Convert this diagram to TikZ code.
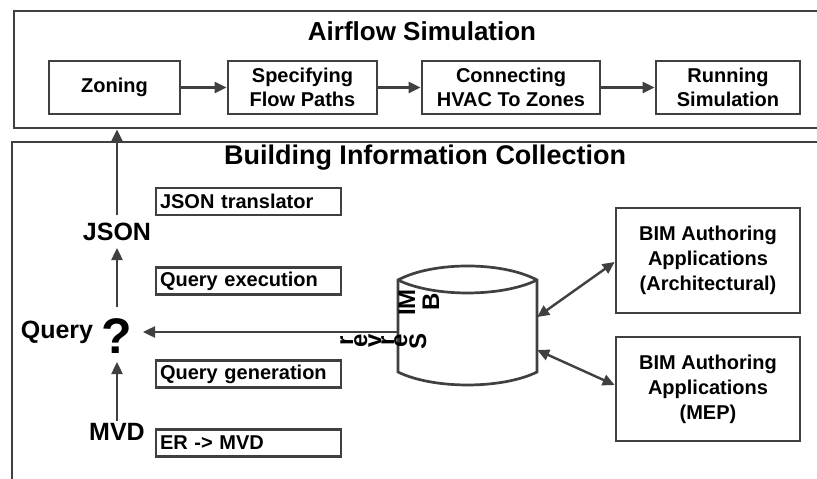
\documentclass[tikz,border=0pt]{standalone}
\usepackage{fontspec}
\setmainfont{Liberation Sans}
\usetikzlibrary{arrows.meta}
\definecolor{dg}{RGB}{64,64,64}
\newcommand\fsz[2]{\fontsize{#1}{#2}\selectfont\bfseries}
\begin{document}
\begin{tikzpicture}[x=1pt,y=-1pt,
 frame/.style={draw=dg, line width=2.7pt},
 cbox/.style={frame, fill=white, align=center, inner sep=0pt, font=\fsz{20}{24}},
 bimbox/.style={frame, fill=white, align=center, inner sep=0pt, font=\fsz{20}{25}, minimum width=184pt},
 lbox/.style={frame, fill=white, align=left, inner xsep=4pt, inner ysep=0pt, text width=177pt, minimum height=27pt, font=\fsz{20}{24}},
 lab/.style={inner sep=0pt, font=\fsz{25}{30}},
 ttl/.style={inner sep=0pt},
 arr/.style={draw=dg, line width=2.4pt, -{Triangle[length=12pt,width=11pt]}},
 darr/.style={draw=dg, line width=2.4pt, {Triangle[length=12pt,width=11pt]}-{Triangle[length=12pt,width=11pt]}},
 glyph/.style={inner sep=0pt, rotate=90, font=\fsz{24}{24}, text width=18pt, align=center, text height=12pt, text depth=0pt},
]
\useasboundingbox (0,0) rectangle (817,479);
\clip (0,0) rectangle (817,479);
\fill[white] (0,0) rectangle (817,479);

% Airflow simulation frame
\node[frame, minimum width=816pt, minimum height=117pt, inner sep=0pt] (air) at (422,69.5) {};
\node[ttl, font=\fsz{26}{30}] (airt) at (422,31) {Airflow Simulation};
\node[cbox, minimum width=131pt, minimum height=53pt] (zon) at (114.5,87.5) {Zoning};
\node[cbox, minimum width=149pt, minimum height=53pt] (spec) at (302.5,87.5) {Specifying\\Flow Paths};
\node[cbox, minimum width=178pt, minimum height=53pt] (conn) at (511,87.5) {Connecting\\HVAC To Zones};
\node[cbox, minimum width=144pt, minimum height=53pt] (run) at (728,87.5) {Running\\Simulation};
\draw[arr] (zon.east) -- (spec.west);
\draw[arr] (spec.east) -- (conn.west);
\draw[arr] (conn.east) -- (run.west);

% Building information collection frame
\node[frame, minimum width=818pt, minimum height=380pt, inner sep=0pt] (bic) at (421,332) {};
\node[ttl, font=\fsz{27}{30}] (bict) at (425,158) {Building Information Collection};

\node[lbox] (jt) at (248.5,201.5) {JSON translator};
\node[lbox] (qe) at (248.5,281) {Query execution};
\node[lbox] (qg) at (248.5,374) {Query generation};
\node[lbox] (er) at (248.5,443) {ER -> MVD};

\node[lab] (json) at (117,232) {JSON};
\node[lab] (qlab) at (57,332) {Query};
\node[inner sep=0pt, font=\fsz{50}{50}] (qm) at (117,336) {?};
\node[lab] (mvd) at (117,432) {MVD};
\coordinate (qtip) at (143,332);

\draw[arr] (json.north |- 0,215) -- (json.north |- air.south);
\draw[arr] (qm.north |- 0,307) -- (json.south |- 0,248);
\draw[arr] (mvd.north |- 0,421) -- (qm.south |- 0,362);

% database cylinder
\node[inner sep=0pt, minimum width=139pt, minimum height=92pt] (db) at (467.5,326) {};
\draw[frame, fill=white] (398,280) -- (398,372) .. controls (433,389.3) and (502,389.3) .. (537,372)
  -- (537,280) .. controls (502,261.3) and (433,261.3) .. (398,280) -- cycle;
\draw[frame] (398,280) .. controls (433,297.3) and (502,297.3) .. (537,280);

\draw[arr] (db.west |- 0,332) -- (qtip);

\node[glyph] (gB) at (433,302) {B};
\node[glyph] (gM) at (409,300) {M};
\node[glyph] (gI) at (409,312) {I};
\node[glyph] (gS) at (420,341) {S};
\node[glyph] (ge1) at (401,341) {e};
\node[glyph] (gr1) at (388,341) {r};
\node[glyph] (gv) at (375,341) {v};
\node[glyph] (ge2) at (361,341) {e};
\node[glyph] (gr2) at (347,341) {r};

% BIM authoring applications
\node[bimbox, minimum height=105pt] (arch) at (708,260.5) {BIM Authoring\\Applications\\(Architectural)};
\node[bimbox, minimum height=104pt] (mep) at (708,389) {BIM Authoring\\Applications\\(MEP)};
\draw[darr] (db.east |- 0,317) -- (arch.west |- 0,262);
\draw[darr] (db.east |- 0,350) -- (mep.west |- 0,385);
\end{tikzpicture}
\end{document}
